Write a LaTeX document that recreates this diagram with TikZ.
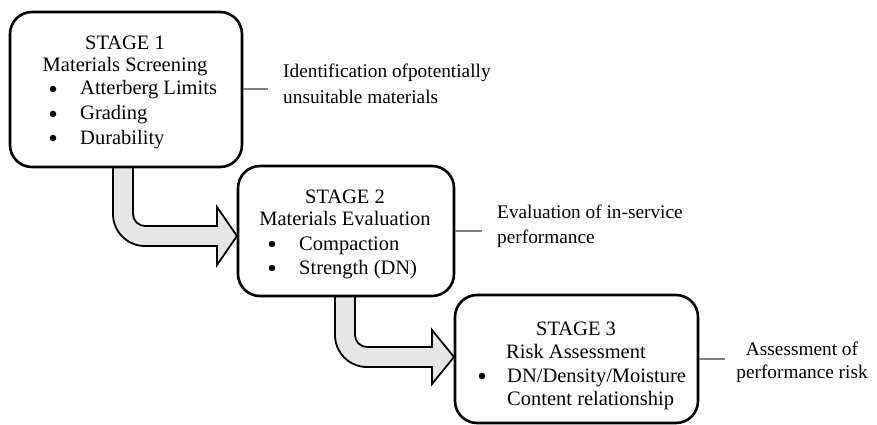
\documentclass[tikz,border=0pt]{standalone}
\usepackage{fontspec}
\setmainfont{Liberation Serif}
\definecolor{arrowgray}{HTML}{E6E6E6}
\definecolor{linkgray}{HTML}{808080}
\begin{document}
\begin{tikzpicture}[x=1pt,y=-1pt,
  stagebox/.style={draw=black, line width=2.6pt, rounded corners=22pt, fill=white, inner sep=0pt},
  arrowshape/.style={draw=black, line width=1.8pt, fill=arrowgray, line join=miter},
  link/.style={draw=linkgray, line width=2pt},
  txt/.style={inner sep=0pt, font=\fontsize{20.5}{24}\selectfont},
  side/.style={inner sep=0pt, font=\fontsize{19.3}{24}\selectfont},
  dot/.style={circle, fill=black, inner sep=0pt, minimum size=6.5pt},
]
\useasboundingbox (0,0) rectangle (877,425);

% bent arrows
\draw[arrowshape] (113,167) -- (113,214) .. controls (113,231.7) and (127.3,246) .. (145,246)
  -- (217,246) -- (217,265) -- (237,236) -- (217,207) -- (217,226) -- (145,226)
  .. controls (138.4,226) and (133,220.6) .. (133,214) -- (133,167) -- cycle;
\draw[arrowshape] (335,296) -- (335,335) .. controls (335,352.7) and (349.3,367) .. (367,367)
  -- (432,367) -- (432,384) -- (454,357) -- (432,330) -- (432,347) -- (367,347)
  .. controls (360.4,347) and (355,341.6) .. (355,335) -- (355,296) -- cycle;

% boxes
\node[stagebox, minimum width=232pt, minimum height=155pt] (s1) at (126,89.5) {};
\node[stagebox, minimum width=216pt, minimum height=130pt] (s2) at (346,231) {};
\node[stagebox, minimum width=243pt, minimum height=128pt] (s3) at (576.5,359) {};

% box 1 text
\node[txt, anchor=base] (s1a) at (125,50) {STAGE 1};
\node[txt, anchor=base] (s1b) at (125,72) {Materials Screening};
\node[dot] (s1c) at (53,89) {};
\node[txt, anchor=base west] (s1d) at (80,95) {Atterberg Limits};
\node[dot] (s1e) at (53,114) {};
\node[txt, anchor=base west] (s1f) at (80,120) {Grading};
\node[dot] (s1g) at (53,138) {};
\node[txt, anchor=base west] (s1h) at (80,144) {Durability};

% box 2 text
\node[txt, anchor=base] (s2a) at (345,203) {STAGE 2};
\node[txt, anchor=base] (s2b) at (345,225) {Materials Evaluation};
\node[dot] (s2c) at (272,244) {};
\node[txt, anchor=base west] (s2d) at (299,250) {Compaction};
\node[dot] (s2e) at (272,268) {};
\node[txt, anchor=base west] (s2f) at (299,274) {Strength (DN)};

% box 3 text
\node[txt, anchor=base] (s3a) at (576,335) {STAGE 3};
\node[txt, anchor=base] (s3b) at (576,358) {Risk Assessment};
\node[dot] (s3c) at (482,376) {};
\node[txt, anchor=base west] (s3d) at (507,382) {DN/Density/Moisture};
\node[txt, anchor=base west] (s3e) at (507,405) {Content relationship};

% side connectors
\coordinate (l1) at (268,89.5);
\coordinate (l2) at (482,231);
\coordinate (l3) at (725,359);
\draw[link] (s1.east) -- (l1);
\draw[link] (s2.east) -- (l2);
\draw[link] (s3.east) -- (l3);

% side texts
\node[side, anchor=base west] (t1a) at (283,78) {Identification ofpotentially};
\node[side, anchor=base west] (t1b) at (283,103) {unsuitable materials};
\node[side, anchor=base west] (t2a) at (497,218) {Evaluation of in-service};
\node[side, anchor=base west] (t2b) at (497,243) {performance};
\node[side, anchor=base] (t3a) at (802,355) {Assessment of};
\node[side, anchor=base] (t3b) at (802,378) {performance risk};
\end{tikzpicture}
\end{document}
